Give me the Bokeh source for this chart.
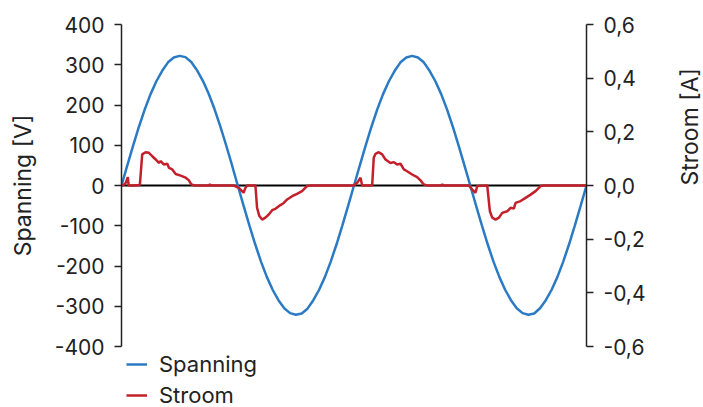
import math
from bokeh.plotting import figure
from bokeh.models import (Range1d, LinearAxis, FixedTicker, CustomJSTickFormatter,
                          Span, Legend, LegendItem)
from bokeh.embed import file_html
from bokeh.resources import INLINE

FONT = "Inter"

# --- data -------------------------------------------------------------
time_v = [0.0, 0.5, 1.0, 1.5, 2.0, 2.5, 3.0, 3.5, 4.0, 4.5, 5.0, 5.5, 6.0, 6.5, 7.0, 7.5,
          8.0, 8.5, 9.0, 9.5, 10.0, 10.5, 11.0, 11.5, 12.0, 12.5, 13.0, 13.5, 14.0, 14.5,
          15.0, 15.5, 16.0, 16.5, 17.0, 17.5, 18.0, 18.5, 19.0, 19.5, 20.0, 20.5, 21.0,
          21.5, 22.0, 22.5, 23.0, 23.5, 24.0, 24.5, 25.0, 25.5, 26.0, 26.5, 27.0, 27.5,
          28.0, 28.5, 29.0, 29.5, 30.0, 30.5, 31.0, 31.5, 32.0, 32.5, 33.0, 33.5, 34.0,
          34.5, 35.0, 35.5, 36.0, 36.5, 37.0, 37.5, 38.0, 38.5, 39.0, 39.5, 40.0]
spanning = [0, 50, 99, 146, 189, 227, 259, 285, 306, 318, 322, 319, 307, 286, 260, 228,
            190, 147, 100, 51, 0,
            -50, -99, -146, -189, -227, -259, -285, -305, -317, -321, -318, -306, -285,
            -259, -227, -189, -146, -99, -50, 0,
            50, 99, 146, 189, 227, 259, 285, 306, 318, 322, 318, 306, 285, 259, 227, 189,
            146, 99, 50, 0,
            -50, -99, -146, -189, -227, -259, -285, -305, -317, -321, -318, -305, -285,
            -259, -227, -189, -146, -99, -50, 0]

time_i = [0.0, 0.3, 0.45, 0.54, 0.62, 1.0, 1.58, 1.78, 2.07, 2.36, 2.65, 2.94, 3.22, 3.37,
          3.65, 3.94, 4.08, 4.37, 4.66, 5.09, 5.52, 5.8, 6.0, 6.3, 7.5, 7.6, 7.7, 9.66,
          10.09, 10.5, 10.66, 10.8, 11.52, 11.66, 11.86, 12.1, 12.38, 12.67, 12.96, 13.24,
          13.67, 13.96, 14.25, 14.68, 15.1, 15.53, 15.96, 16.25, 18.84,
          19.98, 20.27, 20.56, 20.7, 21.56, 21.7, 21.85, 22.13, 22.42, 22.71, 23.14, 23.43,
          23.71, 24.0, 24.29, 24.57, 25.0, 25.43, 25.72, 26.0, 26.3, 27.5, 27.6, 27.7,
          29.88, 30.17, 30.45, 30.6, 31.46, 31.69, 31.89, 32.18, 32.46, 32.75, 33.18,
          33.47, 33.75, 33.9, 34.33, 34.76, 35.19, 35.62, 36.05, 36.34, 40.0]
stroom = [0.0, 0.005, 0.02, 0.031, 0.0, 0.0, 0.002, 0.116, 0.124, 0.122, 0.109, 0.097,
          0.084, 0.091, 0.078, 0.081, 0.066, 0.060, 0.043, 0.037, 0.029, 0.019, 0.004,
          0.0, 0.0, 0.004, 0.0, 0.0,
          -0.009, -0.027, -0.009, 0.0, 0.0, -0.083, -0.114, -0.127, -0.120, -0.108,
          -0.092, -0.087, -0.073, -0.065, -0.052, -0.040, -0.031, -0.021, -0.002, 0.0, 0.0,
          0.0, 0.010, 0.029, 0.0, 0.0, 0.103, 0.118, 0.124, 0.116, 0.097, 0.084, 0.087,
          0.078, 0.081, 0.060, 0.053, 0.041, 0.031, 0.019, 0.004, 0.0, 0.0, 0.004, 0.0,
          0.0, -0.015, -0.027, -0.002, 0.0, -0.096, -0.120, -0.127, -0.120, -0.102,
          -0.096, -0.083, -0.086, -0.065, -0.058, -0.046, -0.034, -0.021, -0.002, 0.0, 0.0]

v_ticks = [-400, -300, -200, -100, 0, 100, 200, 300, 400]
i_ticks = [-0.6, -0.4, -0.2, 0.0, 0.2, 0.4, 0.6]

BLUE = "#2b7bc4"
RED = "#c3202b"
INK = "#222222"

# --- figure -----------------------------------------------------------
p = figure(frame_width=465, frame_height=322, output_backend="svg", toolbar_location=None,
           x_range=Range1d(0, 40), y_range=Range1d(-400, 400),
           x_axis_location=None, min_border_left=121, min_border_right=0,
           min_border_top=24, min_border_bottom=0)
p.extra_y_ranges = {"i": Range1d(-0.6, 0.6)}
p.outline_line_color = None
p.grid.visible = False
p.background_fill_color = "white"
p.border_fill_color = "white"

zero = Span(location=0, dimension="width", line_color="black", line_width=2,
            level="underlay")
p.add_layout(zero)

r_v = p.line(time_v, spanning, line_color=BLUE, line_width=2.5)
r_i = p.line(time_i, stroom, line_color=RED, line_width=2.5, y_range_name="i")

ya = p.yaxis[0]
ya.ticker = FixedTicker(ticks=v_ticks)
ya.formatter = CustomJSTickFormatter(code="return tick.toFixed(0);")
ya.axis_label = "Spanning [V]"

ra = LinearAxis(y_range_name="i", axis_label="Stroom [A]")
ra.ticker = FixedTicker(ticks=i_ticks)
ra.formatter = CustomJSTickFormatter(code="return tick.toFixed(1).replace('.', ',');")
ra.axis_label_orientation = math.pi / 2
p.add_layout(ra, "right")

for ax, so in ((ya, 15), (ra, 42)):
    ax.axis_line_color = INK
    ax.axis_line_width = 1.5
    ax.major_tick_line_color = INK
    ax.major_tick_line_width = 1.5
    ax.major_tick_out = 7
    ax.major_tick_in = 0
    ax.minor_tick_line_color = None
    ax.major_label_text_font = FONT
    ax.major_label_text_font_size = "21px"
    ax.major_label_text_color = INK
    ax.major_label_standoff = 10
    ax.axis_label_text_font = FONT
    ax.axis_label_text_font_size = "23px"
    ax.axis_label_text_font_style = "normal"
    ax.axis_label_text_color = INK
    ax.axis_label_standoff = so
ra.axis_label_text_line_height = 0.6

legend = Legend(items=[LegendItem(label="Spanning", renderers=[r_v]),
                       LegendItem(label="Stroom", renderers=[r_i])],
                location="top_left", orientation="vertical",
                label_text_font=FONT, label_text_font_size="22px",
                label_text_line_height=0.8, label_height=22, glyph_height=22,
                label_text_color=INK, glyph_width=21, label_standoff=12,
                spacing=5, padding=0, margin=5,
                border_line_color=None, background_fill_alpha=0)
p.add_layout(legend, "below")

open("out.html", "w").write(file_html(p, INLINE))
